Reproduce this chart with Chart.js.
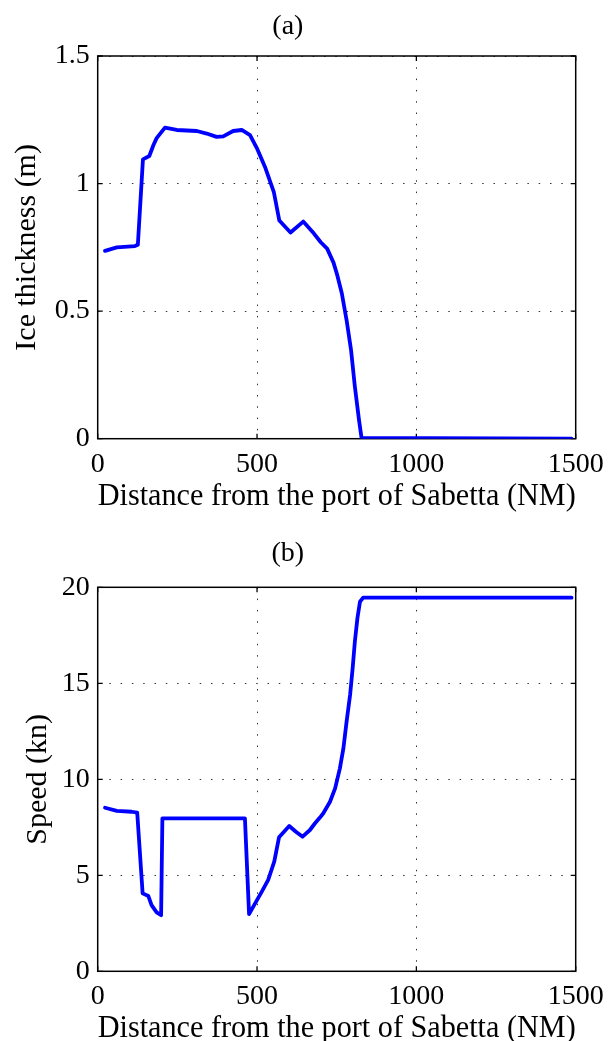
<!DOCTYPE html>
<html>
<head>
<meta charset="utf-8">
<script src="https://cdn.jsdelivr.net/npm/chart.js@4.4.0/dist/chart.umd.min.js"></script>
<style>
  html, body { margin: 0; padding: 0; background: #fff; overflow: hidden; }
  .wrap { position: absolute; left: 0; width: 608px; height: 530px; }
</style>
</head>
<body>
<div class="wrap" style="top:0"><canvas id="iceChart"></canvas></div>
<div class="wrap" style="top:530px"><canvas id="speedChart"></canvas></div>
<script>
// (a) ice thickness along the route
const distIce = [23, 60, 117, 126, 142, 162, 175, 185, 211, 248, 311, 342, 373, 394, 425, 452, 478, 499, 525, 553, 570, 605, 645, 678, 700, 720, 740, 752, 766, 781, 795, 807, 820, 828, 1487];
const iceThickness = [0.736, 0.750, 0.755, 0.760, 1.095, 1.108, 1.151, 1.178, 1.219, 1.210, 1.206, 1.196, 1.183, 1.185, 1.206, 1.210, 1.190, 1.140, 1.065, 0.965, 0.855, 0.808, 0.851, 0.805, 0.770, 0.745, 0.690, 0.640, 0.570, 0.465, 0.348, 0.204, 0.073, 0.003, 0];

// (b) ship speed along the route
const distSpeed = [23, 60, 107, 124, 141, 159, 169, 185, 199, 203, 462, 475, 494, 515, 535, 554, 569, 601, 622, 643, 666, 682, 698, 708, 729, 745, 760, 771, 781, 792, 800, 807, 815, 823, 833, 1487];
const speed = [8.52, 8.36, 8.31, 8.26, 4.06, 3.92, 3.45, 3.07, 2.92, 7.97, 7.97, 2.98, 3.54, 4.15, 4.76, 5.71, 6.98, 7.57, 7.27, 7.01, 7.36, 7.71, 8.02, 8.23, 8.83, 9.53, 10.57, 11.61, 13.0, 14.39, 15.78, 17.17, 18.39, 19.25, 19.46, 19.46];

const xTicks = [0, 500, 1000, 1500];
const iceTicks = [0, 0.5, 1, 1.5];
const speedTicks = [0, 5, 10, 15, 20];

const FONT = "'Liberation Serif', 'Times New Roman', serif";

// matlab style box with inward ticks on all four sides
const boxPlugin = {
  id: 'box',
  beforeDatasetsDraw(chart) {
    const { ctx, chartArea: a, scales } = chart;
    ctx.save();
    ctx.strokeStyle = '#000';
    ctx.lineWidth = 1.5;
    ctx.strokeRect(a.left, a.top, a.right - a.left, a.bottom - a.top);
    ctx.lineWidth = 1.3;
    ctx.beginPath();
    scales.x.ticks.forEach(t => {
      const px = scales.x.getPixelForValue(t.value);
      ctx.moveTo(px, a.bottom); ctx.lineTo(px, a.bottom - 5);
      ctx.moveTo(px, a.top); ctx.lineTo(px, a.top + 5);
    });
    scales.y.ticks.forEach(t => {
      const py = scales.y.getPixelForValue(t.value);
      ctx.moveTo(a.left, py); ctx.lineTo(a.left + 5, py);
      ctx.moveTo(a.right, py); ctx.lineTo(a.right - 5, py);
    });
    ctx.stroke();
    ctx.restore();
  }
};

function makeChart(id, xs, ys, opts) {
  const points = xs.map((x, i) => ({ x: x, y: ys[i] }));
  return new Chart(document.getElementById(id), {
    type: 'scatter',
    data: {
      datasets: [{
        data: points,
        showLine: true,
        borderColor: '#0000ff',
        borderWidth: 3.8,
        borderJoinStyle: 'round',
        borderCapStyle: 'round',
        pointRadius: 0,
        tension: 0
      }]
    },
    options: {
      responsive: true,
      maintainAspectRatio: false,
      animation: false,
      layout: { padding: { right: 32.3 } },
      plugins: {
        legend: { display: false },
        tooltip: { enabled: false },
        title: {
          display: true,
          text: opts.title,
          color: '#000',
          font: { family: FONT, size: 28, weight: 'normal' },
          padding: opts.titlePad
        }
      },
      scales: {
        x: {
          type: 'linear',
          min: 0,
          max: 1500,
          afterBuildTicks: s => { s.ticks = xTicks.map(v => ({ value: v })); },
          afterFit: s => { s.height = opts.xHeight; s.paddingLeft = 0; s.paddingRight = 0; },
          grid: { color: '#333', lineWidth: 1, drawTicks: false },
          border: { display: false, dash: [1.5, 9.8] },
          ticks: {
            color: '#000', padding: 9, maxRotation: 0,
            font: { family: FONT, size: 28 },
            callback: v => String(v)
          },
          title: {
            display: true,
            text: 'Distance from the port of Sabetta (NM)',
            color: '#000',
            font: { family: FONT, size: 30.5 },
            padding: { top: 0, bottom: opts.xTitleBottom }
          }
        },
        y: {
          type: 'linear',
          min: 0,
          max: opts.yMax,
          afterBuildTicks: s => { s.ticks = opts.yTicks.map(v => ({ value: v })); },
          afterFit: s => { s.width = 97.7; },
          grid: { color: '#333', lineWidth: 1, drawTicks: false },
          border: { display: false, dash: [1.5, 9.8] },
          ticks: {
            color: '#000', padding: 8,
            font: { family: FONT, size: 28 },
            callback: v => String(v)
          },
          title: {
            display: true,
            text: opts.yTitle,
            color: '#000',
            font: { family: FONT, size: 30 },
            padding: { top: opts.yTitleTop, bottom: 0 }
          }
        }
      }
    },
    plugins: [boxPlugin]
  });
}

makeChart('iceChart', distIce, iceThickness, {
  title: '(a)',
  titlePad: { top: 9.5, bottom: 12.9 },
  xHeight: 530 - 438.7,
  xTitleBottom: 15,
  yMax: 1.5,
  yTicks: iceTicks,
  yTitle: 'Ice thickness (m)',
  yTitleTop: 9
});

makeChart('speedChart', distSpeed, speed, {
  title: '(b)',
  titlePad: { top: 7.2, bottom: 16.5 },
  xHeight: 530 - 441.3,
  xTitleBottom: 13,
  yMax: 20,
  yTicks: speedTicks,
  yTitle: 'Speed (kn)',
  yTitleTop: 20
});
</script>
</body>
</html>
